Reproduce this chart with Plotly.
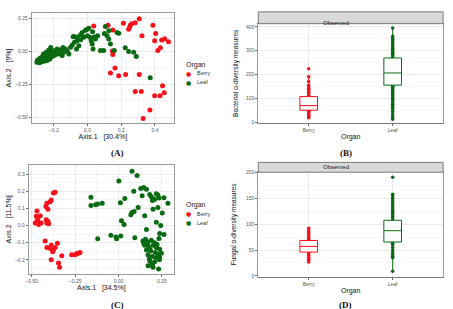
import plotly.graph_objects as go

W, H = 453, 309

# ---------------- Panel A: PCoA (bacteria) ----------------
A_berry_x = [0.037, 0.122, 0.150, 0.213, 0.244, 0.254, 0.262, 0.250, 0.283, 0.307, 0.323, 0.388, 0.404,
             0.398, 0.440, 0.458, 0.480, 0.432, 0.417, 0.148, 0.150, 0.163, 0.136, 0.185, 0.226, 0.307,
             0.283, 0.319, 0.398, 0.430, 0.445, 0.455, 0.370, 0.330]
A_berry_y = [0.195, 0.200, 0.165, 0.215, 0.170, 0.200, 0.212, 0.185, 0.220, 0.250, 0.120, 0.200, 0.137,
             0.083, 0.088, 0.098, 0.075, 0.028, 0.008, 0.005, -0.022, -0.125, -0.163, -0.185, -0.175, -0.175,
             -0.305, -0.305, -0.338, -0.338, -0.260, -0.315, -0.445, -0.510]
A_leaf_x = [-0.300, -0.296, -0.291, -0.287, -0.283, -0.279, -0.275, -0.271, -0.268, -0.264, -0.260, -0.256,
            -0.252, -0.249, -0.245, -0.241, -0.237, -0.233, -0.229, -0.226, -0.222, -0.218, -0.214, -0.210,
            -0.206, -0.202, -0.198, -0.194, -0.262, -0.247, -0.285, -0.240, -0.230, -0.270,
            -0.189, -0.169, -0.159, -0.150, -0.140, -0.130, -0.110, -0.100, -0.085, -0.077, -0.065, -0.061,
            -0.051, -0.041, -0.031, -0.022, -0.012, -0.002, 0.008, 0.014, 0.022, 0.028, 0.033, 0.047, 0.077,
            0.096, 0.100, 0.116, 0.126, 0.136, 0.159, 0.126, 0.175, 0.224, 0.244, 0.274, 0.289, 0.372,
            0.106, 0.185, -0.080, -0.180, -0.120, -0.090, -0.040, 0.000, 0.060, -0.145, -0.175, -0.060, 0.030,
            0.040]
A_leaf_y = [-0.082, -0.066, -0.074, -0.058, -0.070, -0.050, -0.064, -0.046, -0.060, -0.040, -0.054, -0.036,
            -0.072, -0.050, -0.030, -0.046, -0.062, -0.026, -0.042, -0.010, -0.056, 0.030, -0.020, 0.008,
            -0.036, -0.014, 0.002, -0.028, -0.020, -0.008, -0.086, -0.068, 0.012, -0.078,
            0.008, -0.018, 0.013, -0.030, -0.005, 0.020, -0.018, 0.033, 0.113, 0.070, 0.020, 0.083,
            0.045, 0.128, 0.145, 0.108, 0.163, 0.170, 0.178, 0.108, 0.083, 0.058, 0.020, 0.095, 0.008,
            0.008, 0.138, 0.120, 0.095, 0.058, 0.008, 0.158, 0.145, 0.028, 0.000, -0.005, -0.038, -0.200,
            0.190, 0.140, 0.115, 0.020, 0.005, 0.050, 0.090, 0.120, 0.120, 0.030, -0.005, 0.110, 0.150,
            0.110]

# ---------------- Panel C: PCoA (fungi) ----------------
C_berry_x = [-0.470, -0.474, -0.465, -0.451, -0.446, -0.461, -0.480, -0.470, -0.417, -0.407, -0.403, -0.413,
             -0.419, -0.407, -0.413, -0.394, -0.388, -0.375, -0.365, -0.423, -0.413, -0.394, -0.388, -0.375,
             -0.380, -0.365, -0.352, -0.388, -0.346, -0.327, -0.340, -0.270, -0.250, -0.241, -0.231, -0.222]
C_berry_y = [0.086, 0.054, 0.034, 0.057, 0.015, 0.006, 0.015, 0.025, 0.034, 0.025, 0.011, 0.015,
             0.111, 0.096, 0.130, 0.140, 0.149, 0.190, 0.195, -0.090, -0.128, -0.134, -0.115, -0.142,
             -0.153, -0.128, -0.103, -0.199, -0.218, -0.176, -0.243, -0.170, -0.170, -0.163, -0.161, -0.157]
C_leaf_x = [-0.159, -0.159, -0.132, -0.121, -0.094, -0.120, -0.044, -0.015, -0.011, 0.013, 0.002, 0.017,
            0.032, 0.011, 0.036, 0.078, 0.107, 0.088, 0.071, 0.078, 0.090, 0.113, 0.094, 0.128, 0.145,
            0.161, 0.136, 0.151, 0.161, 0.180, 0.189, 0.199, 0.195, 0.218, 0.227, 0.233, 0.208, 0.262,
            0.285, 0.199, 0.227, 0.252, 0.218, 0.243, 0.237, 0.262, 0.233,
            0.141, 0.155, 0.170, 0.189, 0.208, 0.151, 0.174, 0.199, 0.218, 0.237, 0.161, 0.185, 0.212,
            0.228, 0.247, 0.170, 0.195, 0.218, 0.237, 0.180, 0.208, 0.189, 0.170, 0.199, 0.178, 0.197,
            0.235, 0.231, 0.146, 0.165, 0.182, 0.222]
C_leaf_y = [0.165, 0.117, 0.122, 0.126, 0.130, -0.077, -0.057, -0.067, -0.077, -0.061, 0.260, 0.029,
            0.006, 0.134, 0.159, 0.318, 0.293, 0.200, 0.063, 0.077, 0.082, 0.105, -0.071, 0.216, 0.222,
            0.213, 0.174, 0.057, -0.023, 0.182, 0.169, 0.159, 0.146, 0.186, 0.178, 0.161, 0.153, 0.163,
            0.130, 0.096, 0.105, 0.073, 0.019, 0.000, -0.046, -0.052, -0.075,
            -0.090, -0.080, -0.096, -0.086, -0.100, -0.115, -0.123, -0.115, -0.128, -0.138, -0.142, -0.149, -0.157,
            -0.167, -0.161, -0.172, -0.180, -0.186, -0.186, -0.205, -0.211, -0.230, -0.234, -0.243, -0.195, -0.224,
            -0.200, -0.253, -0.105, -0.108, -0.140, -0.110]

# ---------------- Panel B: bacterial observed richness ----------------
organs = ["Berry", "Leaf"]
B_berry_vals = [18, 22, 25, 30, 35, 38, 42, 45, 48, 50, 52, 55, 58, 60, 62, 65, 68, 69, 70, 72, 75, 78, 80,
                85, 90, 95, 100, 105, 108, 112, 118, 125, 130, 138, 142, 148, 155, 170, 190, 224]
B_leaf_vals = [12, 18, 25, 35, 45, 55, 62, 70, 75, 80, 88, 95, 100, 105, 110, 118, 122, 128, 133, 140, 145,
               150, 155, 160, 165, 170, 175, 180, 185, 190, 195, 200, 205, 208, 212, 218, 222, 228, 235, 240,
               245, 250, 255, 262, 268, 272, 278, 282, 288, 292, 298, 305, 310, 318, 325, 332, 338, 345, 352,
               360, 395]
B_q1 = [50, 155]
B_median = [69, 206]
B_q3 = [107, 269]
B_lower = [18, 12]
B_upper = [190, 395]

# ---------------- Panel D: fungal observed richness ----------------
D_berry_vals = [27, 30, 33, 36, 40, 43, 46, 48, 50, 52, 54, 56, 57, 58, 60, 62, 64, 66, 68, 70, 73, 76, 80,
                83, 85, 88, 92]
D_leaf_vals = [9, 35, 38, 42, 45, 50, 55, 60, 63, 66, 70, 74, 78, 82, 86, 88, 90, 94, 98, 102, 106, 110,
               114, 118, 120, 123, 126, 130, 134, 138, 142, 146, 150, 155, 158, 191]
D_q1 = [46, 65.5]
D_median = [57, 87.4]
D_q3 = [68.5, 107.5]
D_lower = [27, 9]
D_upper = [92, 158]

legend_title = "Organ"
legend_labels = ["Berry", "Leaf"]

RED = "#F8101A"
GREEN = "#0A6A12"
FONT = "Liberation Sans, Arial, sans-serif"


def px_x(p):
    return p / W


def px_y(p):
    return 1 - p / H


fig = go.Figure()

# A
fig.add_trace(go.Scatter(x=A_berry_x, y=A_berry_y, mode="markers", name="Berry", showlegend=False,
                         marker=dict(color=RED, size=5), xaxis="x", yaxis="y"))
fig.add_trace(go.Scatter(x=A_leaf_x, y=A_leaf_y, mode="markers", name="Leaf", showlegend=False,
                         marker=dict(color=GREEN, size=5), xaxis="x", yaxis="y"))
# C
fig.add_trace(go.Scatter(x=C_berry_x, y=C_berry_y, mode="markers", name="Berry", showlegend=False,
                         marker=dict(color=RED, size=5), xaxis="x3", yaxis="y3"))
fig.add_trace(go.Scatter(x=C_leaf_x, y=C_leaf_y, mode="markers", name="Leaf", showlegend=False,
                         marker=dict(color=GREEN, size=5), xaxis="x3", yaxis="y3"))

# B / D points (under) and boxes (overlay axes on top)
for vals, org, col in [(B_berry_vals, "Berry", RED), (B_leaf_vals, "Leaf", GREEN)]:
    fig.add_trace(go.Scatter(x=[org] * len(vals), y=vals, mode="markers", showlegend=False,
                             marker=dict(color=col, size=3.5), xaxis="x2", yaxis="y2"))
for vals, org, col in [(D_berry_vals, "Berry", RED), (D_leaf_vals, "Leaf", GREEN)]:
    fig.add_trace(go.Scatter(x=[org] * len(vals), y=vals, mode="markers", showlegend=False,
                             marker=dict(color=col, size=3.5), xaxis="x4", yaxis="y4"))

for i, (org, col) in enumerate(zip(organs, [RED, GREEN])):
    fig.add_trace(go.Box(x=[org], q1=[B_q1[i]], median=[B_median[i]], q3=[B_q3[i]],
                         lowerfence=[B_lower[i]], upperfence=[B_upper[i]], width=0.21,
                         fillcolor="white", line=dict(color=col, width=1), whiskerwidth=0,
                         showlegend=False, xaxis="x5", yaxis="y5"))
    fig.add_trace(go.Box(x=[org], q1=[D_q1[i]], median=[D_median[i]], q3=[D_q3[i]],
                         lowerfence=[D_lower[i]], upperfence=[D_upper[i]], width=0.21,
                         fillcolor="white", line=dict(color=col, width=1), whiskerwidth=0,
                         showlegend=False, xaxis="x6", yaxis="y6"))

tickfont = dict(family=FONT, size=5, color="#555555")
titlefont = dict(family=FONT, size=7, color="#111111")
grid = "#EBEBEB"
minorgrid = "#F5F5F5"


def num_axis(domain, rng, dtick, fmt, title, anchor, standoff=2, tfont=titlefont):
    return dict(domain=domain, range=rng, dtick=dtick, tick0=0, tickformat=fmt,
                showgrid=True, gridcolor=grid, gridwidth=0.8,
                minor=dict(dtick=dtick / 2, showgrid=True, gridcolor=minorgrid, gridwidth=0.6),
                zeroline=False, showline=True, mirror=True, linecolor="#9A9A9A", linewidth=1,
                ticks="outside", ticklen=2, tickcolor="#666666", tickwidth=0.8,
                tickfont=tickfont, anchor=anchor,
                title=dict(text=title, font=tfont, standoff=standoff))


cat_common = dict(type="category", categoryarray=organs, categoryorder="array", range=[-0.6, 1.6])

layout = dict(
    width=W, height=H, margin=dict(l=0, r=0, t=0, b=0),
    paper_bgcolor="white", plot_bgcolor="white",
    font=dict(family=FONT), showlegend=False,
    xaxis=num_axis([px_x(29), px_x(172)], [-0.33, 0.512], 0.2, ".1f", "Axis.1   [30.4%]", "y"),
    yaxis=num_axis([px_y(122), px_y(10)], [-0.545, 0.295], 0.25, ".2f", "Axis.2   [9%]", "x"),
    xaxis3=num_axis([px_x(26), px_x(172)], [-0.517, 0.319], 0.25, ".2f", "Axis.1   [34.5%]", "y3"),
    yaxis3=num_axis([px_y(275), px_y(165)], [-0.28, 0.352], 0.1, ".1f", "Axis.2   [11.5%]", "x3"),
    xaxis2=dict(domain=[px_x(257), px_x(443)], anchor="y2", showgrid=True, gridcolor=grid, gridwidth=0.8,
                showline=True, mirror=True, linecolor="#7A7A7A", linewidth=1,
                ticks="outside", ticklen=2, tickcolor="#666666", tickfont=tickfont,
                title=dict(text="Organ", font=titlefont, standoff=2), **cat_common),
    yaxis2=num_axis([px_y(122), px_y(21)], [-4, 413], 100, "d", "Bacterial α-diversity measures", "x2",
                    standoff=6, tfont=dict(family=FONT, size=6.5, color="#111111")),
    xaxis4=dict(domain=[px_x(257), px_x(443)], anchor="y4", showgrid=True, gridcolor=grid, gridwidth=0.8,
                showline=True, mirror=True, linecolor="#7A7A7A", linewidth=1,
                ticks="outside", ticklen=2, tickcolor="#666666", tickfont=tickfont,
                title=dict(text="Organ", font=titlefont, standoff=2), **cat_common),
    yaxis4=num_axis([px_y(278), px_y(172)], [-1.2, 200.5], 50, "d", "Fungal α-diversity measures", "x4",
                    standoff=8, tfont=dict(family=FONT, size=6.5, color="#111111")),
    xaxis5=dict(overlaying="x2", anchor="y5", visible=False, **cat_common),
    yaxis5=dict(overlaying="y2", anchor="x5", visible=False, range=[-4, 413]),
    xaxis6=dict(overlaying="x4", anchor="y6", visible=False, **cat_common),
    yaxis6=dict(overlaying="y4", anchor="x6", visible=False, range=[-1.2, 200.5]),
)
fig.update_layout(**layout)

# Legends for panels A and C (title + coloured keys)
for ytitle in [57, 211]:
    fig.add_annotation(text=legend_title, xref="paper", yref="paper", x=px_x(182), y=px_y(ytitle),
                       xanchor="left", showarrow=False, font=dict(family=FONT, size=7, color="#222222"))
    for k, (lab, col) in enumerate(zip(legend_labels, [RED, GREEN])):
        yk = ytitle + 9 * (k + 1)
        fig.add_annotation(text="●", xref="paper", yref="paper", x=px_x(187), y=px_y(yk),
                           showarrow=False, font=dict(family="DejaVu Sans", size=6, color=col))
        fig.add_annotation(text=lab, xref="paper", yref="paper", x=px_x(193), y=px_y(yk),
                           xanchor="left", showarrow=False, font=dict(family=FONT, size=5.5, color="#333333"))

# Facet strips "Observed"
for top, bot in [(9, 21), (162, 172)]:
    fig.add_shape(type="rect", xref="paper", yref="paper", x0=px_x(257), x1=px_x(443),
                  y0=px_y(bot), y1=px_y(top), fillcolor="#D9D9D9", line=dict(color="#7A7A7A", width=1))
    fig.add_annotation(text="Observed", xref="paper", yref="paper", x=px_x(350), y=px_y((top + bot) / 2),
                       showarrow=False, font=dict(family=FONT, size=6, color="#1A1A1A"))

# Panel labels
for lab, xc, ytop in [("(A)", 107, 145), ("(B)", 353, 145), ("(C)", 107, 300), ("(D)", 353, 300)]:
    fig.add_annotation(text="<b>%s</b>" % lab, xref="paper", yref="paper", x=px_x(xc), y=px_y(ytop),
                       yanchor="top", showarrow=False,
                       font=dict(family="Liberation Serif, Times New Roman, serif", size=9, color="#111111"))

fig.write_html("out.html")
